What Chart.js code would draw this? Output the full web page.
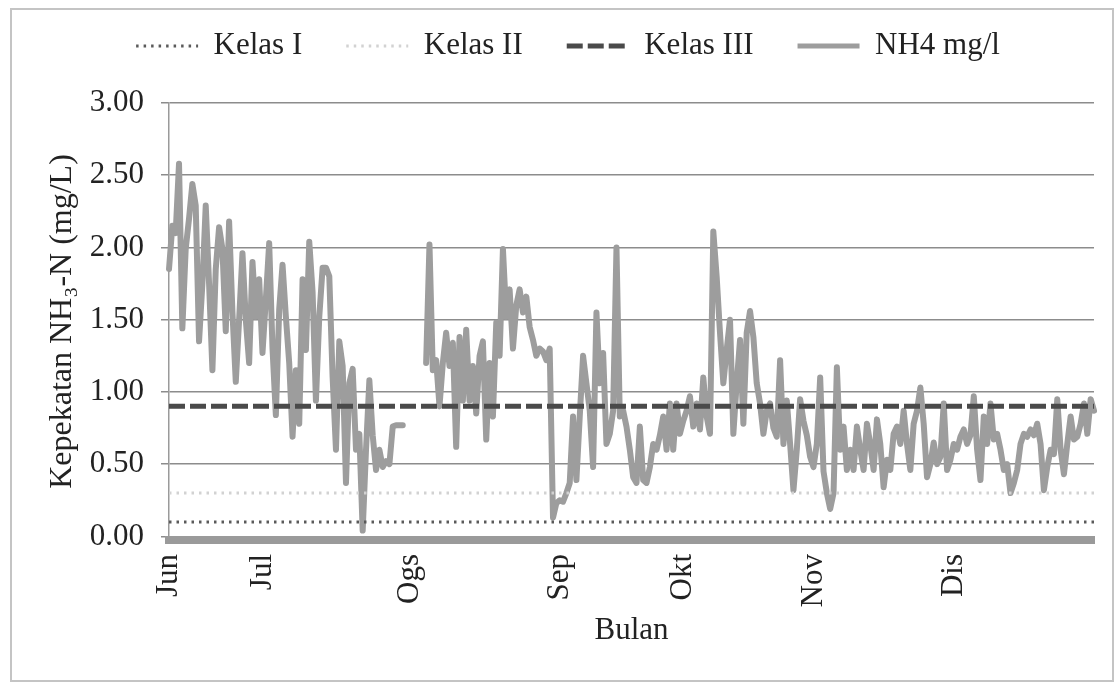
<!DOCTYPE html>
<html><head><meta charset="utf-8">
<script src="https://cdn.jsdelivr.net/npm/chart.js@4.4.0/dist/chart.umd.min.js"></script>
<style>
html,body{margin:0;padding:0;background:#fff;overflow:hidden}
#wrap{position:relative;width:1119px;height:683px}
#frame{position:absolute;left:10px;top:8px;width:1100px;height:670px;border:2px solid #c4c4c4;pointer-events:none}
</style></head><body>
<div id="wrap"><canvas id="c" width="1119" height="683"></canvas><div id="frame"></div></div>
<script>
const months = ['Jun','Jul','Ogs','Sep','Okt','Nov','Dis'];
const nh4Jun = [1.85,2.15,2.1,2.58,1.44,1.99,2.2,2.44,2.29,1.35,1.75,2.29,1.75,1.15,1.85,2.14,1.99,1.42,2.18,1.55,1.07,1.5,1.96,1.5,1.2,1.9,1.52,1.78];
const nh4Jul = [1.27,1.64,2.03,1.3,0.84,1.57,1.88,1.52,1.2,0.69,1.15,0.78,1.78,1.29,2.04,1.69,0.94,1.52,1.86,1.86,1.8,1.1,0.6,1.35,1.18,0.37,1.06,1.16,0.6,
  0.71,0.04,0.6,1.08,0.7,0.46,0.6,0.48,0.52,0.5,0.76,0.77,0.77,0.77,null];
const nh4Ogs = [null,null,null,null,null,
  1.2,2.02,1.15,1.22,0.9,1.2,1.41,1.18,1.34,0.62,1.38,0.94,1.43,0.94,1.18,0.85,1.25,1.35,0.67,1.2,
  0.83,1.48,1.25,1.99,1.52,1.71,1.3,1.6,1.71,1.55,1.66,1.45,1.36,1.25,1.3,1.28,1.22,1.3,0.13,0.23];
const nh4Sep = [0.25,0.24,0.3,0.37,0.83,0.39,0.83,1.25,1.06,0.87,0.48,1.55,1.06,1.27,0.64,0.71,0.87,2.0,0.83,0.87,
  0.76,0.6,0.41,0.37,0.76,0.39,0.37,0.48,0.64,0.6,0.7,0.83,0.6,0.92,0.6,0.92,0.71];
const nh4Okt = [0.8,0.87,0.97,0.76,0.92,0.74,1.1,0.83,0.71,2.11,1.8,1.41,1.06,1.29,1.5,0.71,1.06,
  1.36,0.78,1.41,1.56,1.38,1.06,0.92,0.71,0.87,0.92,0.75,0.69,1.22,0.64,0.94,0.64,0.32,0.6,0.95,0.8,0.7,0.55];
const nh4Nov = [0.48,0.64,1.1,0.45,0.3,0.19,0.3,1.17,0.6,0.76,0.46,0.6,0.46,0.76,0.6,0.46,0.78,0.64,0.46,0.81,
  0.64,0.34,0.53,0.46,0.71,0.76,0.64,0.87,0.64,0.46,0.78,0.87,1.03,0.78,0.41,0.5,0.65,0.5,0.55,0.92,0.46,0.53];
const nh4Dis = [0.64,0.6,0.69,0.74,0.64,0.7,0.97,0.6,0.39,0.83,0.64,0.92,0.67,0.71,0.6,0.46,0.5,0.3,0.37,0.46,
  0.64,0.71,0.69,0.74,0.7,0.78,0.64,0.32,0.48,0.6,0.57,0.95,0.6,0.43,0.64,0.83,0.67,0.69,0.78,0.92,0.71,0.95,0.87];
const kelasI = 0.1, kelasII = 0.3, kelasIII = 0.9;
const yTicks = [0, 0.5, 1, 1.5, 2, 2.5, 3];

const monthly = [nh4Jun, nh4Jul, nh4Ogs, nh4Sep, nh4Okt, nh4Nov, nh4Dis];
const nh4 = [].concat(...monthly);
const labels = [];
monthly.forEach((arr, m) => arr.forEach((v, k) => labels.push(k === 0 ? months[m] : '')));

Chart.defaults.font.family = "'Liberation Serif', 'Times New Roman', serif";
Chart.defaults.color = '#222';

const txt = '#222';
new Chart(document.getElementById('c'), {
  type: 'line',
  data: {
    labels: labels,
    datasets: [
      {label: 'Kelas I', data: labels.map(() => kelasI), borderColor: '#5a5a5a', borderWidth: 3, borderDash: [2.5, 5], pointRadius: 0, fill: false},
      {label: 'Kelas II', data: labels.map(() => kelasII), borderColor: '#d2d2d2', borderWidth: 3, borderDash: [2.5, 5], pointRadius: 0, fill: false},
      {label: 'Kelas III', data: labels.map(() => kelasIII), borderColor: '#4a4a4a', borderWidth: 5, borderDash: [16, 5], pointRadius: 0, fill: false},
      {label: 'NH4 mg/l', data: nh4, borderColor: '#9d9d9d', borderWidth: 6, pointRadius: 0, fill: false, spanGaps: false, borderJoinStyle: 'round', borderCapStyle: 'round'}
    ]
  },
  options: {
    responsive: false,
    animation: false,
    events: [],
    layout: {padding: {top: -13.5, left: 42, right: 25, bottom: 30}},
    plugins: {
      tooltip: {enabled: false},
      legend: {
        position: 'top',
        labels: {
          usePointStyle: true, pointStyle: 'line', pointStyleWidth: 62, padding: 44, color: txt, font: {size: 31},
          generateLabels(chart) {
            return chart.data.datasets.map((ds, i) => ({
              text: ds.label, fillStyle: ds.borderColor, strokeStyle: ds.borderColor,
              lineWidth: Math.min(ds.borderWidth, 5), lineDash: ds.borderDash || [], lineCap: 'butt',
              pointStyle: 'line', hidden: false, datasetIndex: i, fontColor: txt
            }));
          }
        }
      }
    },
    scales: {
      x: {
        type: 'category',
        grid: {display: false, drawTicks: false},
        border: {display: true, color: '#9a9a9a', width: 8},
        ticks: {autoSkip: false, minRotation: 90, maxRotation: 90, padding: 14, color: txt, font: {size: 31}},
        title: {display: true, text: 'Bulan', color: txt, font: {size: 31}, padding: {top: 4, bottom: 4}},
        afterFit(s) { s.height = 113; s.paddingLeft = 0; s.paddingRight = 0; }
      },
      xTop: {
        type: 'category', position: 'top',
        grid: {display: false, drawTicks: false}, border: {display: false}, ticks: {display: false},
        afterFit(s) { s.height = 31.5; s.paddingLeft = 0; s.paddingRight = 0; }
      },
      y: {
        min: -0.025, max: 3,
        afterBuildTicks(s) { s.ticks = yTicks.map(v => ({value: v})); },
        grid: {color: '#8c8c8c', lineWidth: 1.5, tickLength: 8},
        border: {display: true, color: '#9a9a9a', width: 1.5},
        ticks: {padding: 17, color: txt, font: {size: 31}, callback: v => Number(v).toFixed(2)},
        title: {display: true, text: 'Kepekatan NH₃-N (mg/L)', color: txt, font: {size: 32}, padding: {top: 1, bottom: 4}},
        afterFit(s) { s.width = 127; }
      }
    }
  }
});
</script>
</body></html>
